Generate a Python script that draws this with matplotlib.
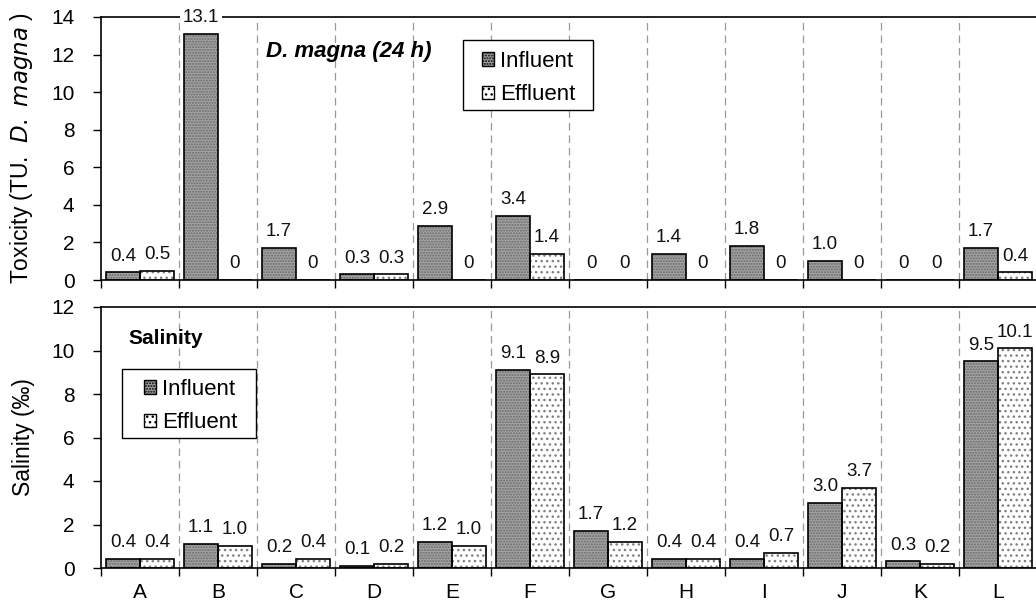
import numpy as np
import matplotlib.pyplot as plt
from matplotlib.patches import Patch, Rectangle

plt.rcParams['font.family'] = ['Liberation Sans', 'DejaVu Sans']
plt.rcParams['hatch.linewidth'] = 1.0

sites = ['A', 'B', 'C', 'D', 'E', 'F', 'G', 'H', 'I', 'J', 'K', 'L']

# toxicity, TU D. magna (24 h)
tox_in = [0.4, 13.1, 1.7, 0.3, 2.9, 3.4, 0, 1.4, 1.8, 1.0, 0, 1.7]
tox_ef = [0.5, 0, 0, 0.3, 0, 1.4, 0, 0, 0, 0, 0, 0.4]
tox_in_lab = ['0.4', '13.1', '1.7', '0.3', '2.9', '3.4', '0', '1.4', '1.8', '1.0', '0', '1.7']
tox_ef_lab = ['0.5', '0', '0', '0.3', '0', '1.4', '0', '0', '0', '0', '0', '0.4']

# salinity, permil
sal_in = [0.4, 1.1, 0.2, 0.1, 1.2, 9.1, 1.7, 0.4, 0.4, 3.0, 0.3, 9.5]
sal_ef = [0.4, 1.0, 0.4, 0.2, 1.0, 8.9, 1.2, 0.4, 0.7, 3.7, 0.2, 10.1]

x = np.arange(len(sites))
w = 0.435
W, H = 1036, 607

fig = plt.figure(figsize=(10.36, 6.07), dpi=100)
ax1 = fig.add_axes([101/W, 327/H, 936/W, 263/H])
ax2 = fig.add_axes([101/W, 39/H, 936/W, 261/H])


def draw(ax, vin, vef, lin, lef, ymax):
    # fill + hatch first, then black outline on top
    ax.bar(x - w/2, vin, w, color='#a3a3a3', edgecolor='#6a6a6a', hatch='......', linewidth=0, zorder=2)
    ax.bar(x + w/2, vef, w, color='white', edgecolor='#808080', hatch='...', linewidth=0, zorder=2)
    ax.bar(x - w/2, vin, w, fill=False, edgecolor='black', linewidth=1.2, zorder=3)
    ax.bar(x + w/2, vef, w, fill=False, edgecolor='black', linewidth=1.2, zorder=3)
    for i in range(len(x)):
        for xo, v, t in ((x[i] - w/2, vin[i], lin[i]), (x[i] + w/2, vef[i], lef[i])):
            ax.annotate(t, (xo, v), xytext=(0, 8.5), textcoords='offset points',
                        ha='center', va='baseline', fontsize=13.5, color='#111111',
                        zorder=5, annotation_clip=False,
                        bbox=dict(boxstyle='square,pad=0.15', fc='white', ec='none'))
    for b in np.arange(0.5, len(x) - 0.5, 1):
        ax.plot([b, b], [0, ymax], color='#999999', ls=(0, (6, 4)), lw=0.9, zorder=1)
    ax.set_xlim(-0.5, len(x) - 0.5)
    ax.set_ylim(0, ymax)
    ax.set_xticks(np.arange(-0.5, len(x), 1))
    ax.set_xticklabels([])
    ax.set_xticks(x, minor=True)
    ax.tick_params(axis='x', which='major', direction='out', length=6, width=1)
    ax.tick_params(axis='x', which='minor', length=0, labelsize=15, pad=11)
    ax.tick_params(axis='y', direction='out', length=6, width=1, labelsize=15, pad=13)
    ax.spines['right'].set_visible(False)
    for s in ('left', 'bottom', 'top'):
        ax.spines[s].set_linewidth(1.2)


def box_legend(ax, box, anchor):
    # box: left, top, right, bottom in pixels from the top-left corner
    l, t, r, b = box
    ax.add_patch(Rectangle((l/W, 1 - b/H), (r - l)/W, (b - t)/H, transform=fig.transFigure,
                           facecolor='white', edgecolor='black', linewidth=1.0,
                           clip_on=False, zorder=5.5))
    h = [Patch(facecolor='#a3a3a3', edgecolor='black', hatch='......'),
         Patch(facecolor='white', edgecolor='black', hatch='...')]
    leg = ax.legend(h, ['Influent', 'Effluent'], loc='upper left',
                    bbox_to_anchor=(anchor[0]/W, 1 - anchor[1]/H), bbox_transform=fig.transFigure,
                    fontsize=16, frameon=False, handlelength=0.55, handleheight=0.55,
                    handletextpad=0.25, borderpad=0, labelspacing=0.55, borderaxespad=0)
    leg.set_zorder(6)


draw(ax1, tox_in, tox_ef, tox_in_lab, tox_ef_lab, 14)
ax1.set_yticks(np.arange(0, 15, 2))
ax1.set_ylabel('Toxicity (TU.  $\\mathit{D.\\ magna}$ )', fontsize=16.5, labelpad=12)
fig.text(266/W, 1 - 52/H, 'D. magna (24 h)', fontsize=16,
         fontweight='bold', style='italic', va='center')
box_legend(ax1, (463, 40, 593, 110), (482, 51))

sal_in_lab = ['%.1f' % v for v in sal_in]
sal_ef_lab = ['%.1f' % v for v in sal_ef]
draw(ax2, sal_in, sal_ef, sal_in_lab, sal_ef_lab, 12)
ax2.set_yticks(np.arange(0, 13, 2))
ax2.set_xticklabels(sites, minor=True)
ax2.set_ylabel('Salinity (‰)', fontsize=16.5, labelpad=12)
fig.text(128/W, 1 - 338/H, 'Salinity', fontsize=15,
         fontweight='bold', va='center')
box_legend(ax2, (122, 369, 256, 438), (144, 379))

fig.savefig('out.png', dpi=100)
